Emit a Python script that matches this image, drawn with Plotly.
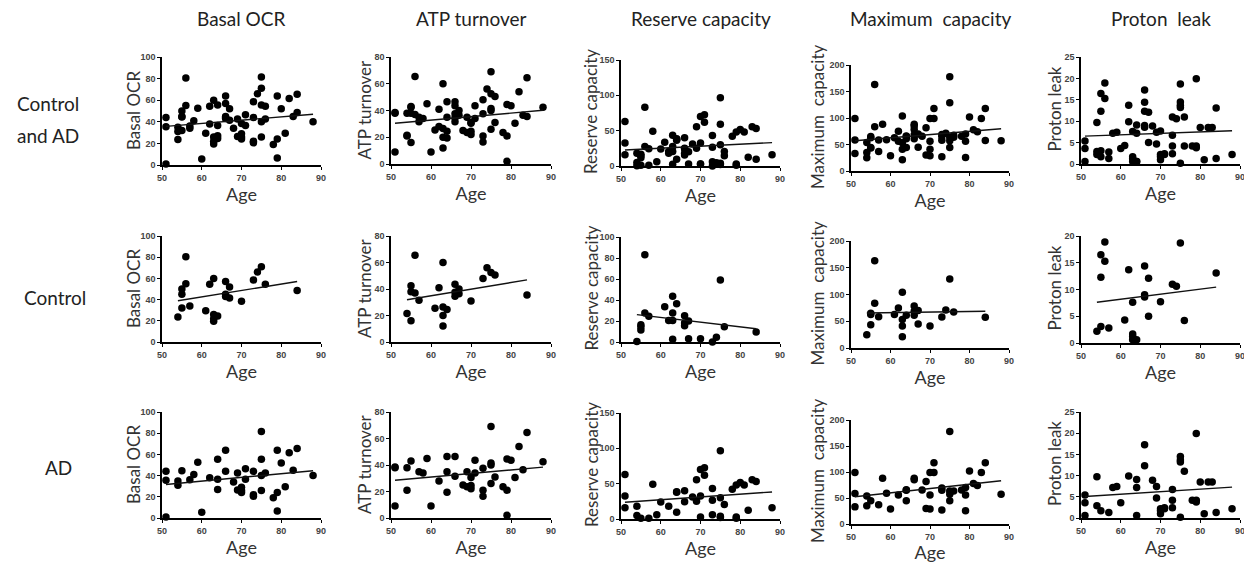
import numpy as np
import plotly.graph_objects as go

# ---------------- data ----------------
col_titles = ["Basal OCR", "ATP turnover", "Reserve capacity", "Maximum\u00a0 capacity", "Proton\u00a0 leak"]
y_titles = ["Basal OCR", "ATP turnover", "Reserve capacity", "Maximum\u00a0 capacity", "Proton leak"]
row_labels = [["Control", "and AD"], ["Control"], ["AD"]]
x_label = "Age"

ages_control = [54, 55, 55, 55, 56, 56, 57, 61, 62, 63, 63, 63, 63, 64, 66, 66, 66, 67, 67, 70, 73, 74, 75, 76, 84]
basal_control = [23.5, 32, 45, 50, 80.5, 55, 34, 29.5, 54.5, 60, 26, 19.5, 22, 24.5, 57, 45, 43, 52, 41.5, 38.5, 58.5, 66, 71, 54.5, 48.5]
atp_control = [21.5, 16, 42.5, 38, 65.5, 37, 31.5, 25.5, 41, 60, 26.5, 20, 12, 24.5, 43.5, 34.5, 37.5, 40, 36.5, 31, 48, 56, 52.5, 50.5, 35.5]
reserve_control = [0.5, 16.5, 14.5, 11.5, 83, 27.5, 24.5, 33.5, 20.5, 43.5, 27.5, 20.5, 2.5, 36.5, 25, 15.5, 18, 20, 3, 3, 0, 4.5, 59, 14.5, 9.5]
max_control = [25, 62.5, 43.5, 65, 163, 83.5, 58.5, 62.5, 75, 104, 53.5, 41, 21, 61, 78.5, 61, 68.5, 70, 45, 41, 58, 71, 129, 67.5, 57.5]
proton_control = [2.2, 12.3, 16.5, 3.1, 18.9, 15.3, 2.8, 4.3, 13.7, 7.6, 1.7, 1.2, 0.6, 0.6, 14.4, 9.0, 8.6, 12.1, 5.0, 7.7, 11.0, 10.6, 18.7, 4.2, 13.1]

ages_ad = [51, 51, 51, 54, 54, 55, 57, 58, 59, 60, 62, 64, 64, 64, 66, 66, 68, 69, 69, 70, 70, 70, 71, 71,
           73, 73, 73, 75, 75, 75, 75, 76, 78, 79, 79, 79, 80, 81, 82, 83, 84, 88]
basal_ad = [44, 35.5, 1, 35, 31, 44.5, 36, 41, 52.5, 5.5, 38, 55.5, 36.5, 27, 64, 44, 34, 42.5, 26.5, 29, 26, 24,
            46.5, 36.5, 44, 22, 20.5, 81.5, 55.5, 40, 26, 42.5, 19, 64, 24, 6.5, 52, 29.5, 61.5, 45, 65.5, 40]
atp_ad = [38.5, 38, 9, 38, 21, 43, 35, 34, 45, 9, 28, 46.5, 35, 19.5, 46.5, 31.5, 25, 35, 23.5, 30.5, 24.5, 22,
          43.5, 34, 37.5, 21, 16.5, 69, 41.5, 26, 40, 31, 23.5, 44.5, 21, 2, 43.5, 30.5, 54, 36.5, 64.5, 42.5]
reserve_ad = [63, 32.5, 16, 18, 5, 1, 1, 49, 6, 24, 18, 38, 9.5, 38.5, 40, 24.5, 31, 55.5, 25, 70, 32.5, 3,
              72.5, 62, 43, 26.5, 6, 96.5, 30, 4, 2, 20.5, 42, 48, 3, 1, 51.5, 48, 12.5, 55.5, 53, 16]
max_ad = [99, 58.5, 33, 35, 54, 44.5, 37, 88, 59, 29, 56, 66, 44.5, 65, 88, 85, 65.5, 81.5, 30, 99, 56, 29,
          118, 99, 69, 65, 27, 178, 63.5, 44.5, 57, 63.5, 65.5, 56, 25.5, 70, 102, 78, 74, 99, 118, 57]
proton_ad = [5.4, 3.6, 0.6, 9.7, 2.9, 1.7, 1.3, 7.2, 7.4, 3.6, 9.9, 9.1, 7.2, 0.6, 17.3, 12.3, 8.9, 7.4, 4.7, 2.2,
             1.0, 1.7, 2.4, 2.2, 6.7, 4.2, 2.4, 14.5, 13.7, 13.2, 0.2, 11, 4.2, 19.9, 3.8, 4.2, 8.5, 1, 8.5, 8.5, 1.3, 2.2]

y_max_rows = [[100, 80, 150, 200, 25], [100, 80, 100, 200, 20], [100, 80, 150, 200, 25]]
y_dtick_rows = [[20, 20, 50, 50, 5], [20, 20, 20, 50, 5], [20, 20, 50, 50, 5]]
x_ticks = [50, 60, 70, 80, 90]

control_sets = [basal_control, atp_control, reserve_control, max_control, proton_control]
ad_sets = [basal_ad, atp_ad, reserve_ad, max_ad, proton_ad]

# ---------------- layout geometry (page pixels) ----------------
OFF = 8  # default page body margin
W, H = 1240, 555
col_x = [(162, 321), (391, 551), (621, 780), (851, 1009), (1081, 1240)]
ytitle_offset = [29, 27, 30, 34, 27]
row_y = [
    [(57, 165), (57, 164), (60, 166), (65, 171), (57, 164)],
    [(236, 342), (236, 342), (237, 342), (241, 348), (236, 343)],
    [(412, 518), (412, 518), (413, 519), (420, 524), (412, 518)],
]


def px(x):
    return (x - OFF) / W


def py(y):
    return 1 - (y - OFF) / H


fig = go.Figure()
layout = dict(width=W, height=H, margin=dict(l=0, r=0, t=0, b=0, pad=0, autoexpand=False),
              paper_bgcolor="white", plot_bgcolor="white", showlegend=False)
annotations = []

font_main = "Lato, Open Sans, sans-serif"
tick_font = dict(family="Liberation Sans, Arial", size=9, color="#444", weight="bold")

k = 0
for r in range(3):
    for c in range(5):
        k += 1
        if r == 0:
            xs = ages_control + ages_ad
            ys = control_sets[c] + ad_sets[c]
        elif r == 1:
            xs = ages_control
            ys = control_sets[c]
        else:
            xs = ages_ad
            ys = ad_sets[c]
        xn = np.array(xs, dtype=float)
        yn = np.array(ys, dtype=float)
        slope, icpt = np.polyfit(xn, yn, 1)
        lx = np.array([xn.min(), xn.max()])
        ly = slope * lx + icpt
        xa = "x" if k == 1 else f"x{k}"
        ya = "y" if k == 1 else f"y{k}"
        fig.add_trace(go.Scatter(x=xs, y=ys, mode="markers", xaxis=xa, yaxis=ya,
                                 marker=dict(color="black", size=7.5), cliponaxis=False))
        fig.add_trace(go.Scatter(x=lx, y=ly, mode="lines", xaxis=xa, yaxis=ya,
                                 line=dict(color="#111", width=1.4), cliponaxis=False))
        x0, x1 = col_x[c]
        yt, yb = row_y[r][c]
        xk = "xaxis" if k == 1 else f"xaxis{k}"
        yk = "yaxis" if k == 1 else f"yaxis{k}"
        layout[xk] = dict(domain=[px(x0), px(x1)], anchor=ya, range=[50, 90], automargin=False,
                          tickvals=x_ticks, showgrid=False, zeroline=False,
                          showline=True, linecolor="black", linewidth=1.5,
                          ticks="outside", ticklen=3, tickwidth=1.2, tickcolor="black",
                          tickfont=tick_font,
                          title=dict(text=x_label, font=dict(family=font_main, size=18, color="#333"), standoff=2))
        layout[yk] = dict(domain=[py(yb), py(yt)], anchor=xa, automargin=False,
                          range=[0, y_max_rows[r][c]], dtick=y_dtick_rows[r][c], tick0=0,
                          showgrid=False, zeroline=False,
                          showline=True, linecolor="black", linewidth=1.5,
                          ticks="outside", ticklen=3, tickwidth=1.2, tickcolor="black",
                          tickfont=tick_font)
        # y-axis title placed beside the axis
        annotations.append(dict(text=y_titles[c], textangle=-90, x=px(x0 - ytitle_offset[c]),
                                y=py((yt + yb) / 2 - 1), xref="paper", yref="paper", showarrow=False,
                                font=dict(family=font_main, size=17, color="#333"),
                                xanchor="center", yanchor="middle"))

# column titles
for c in range(5):
    x0, x1 = col_x[c]
    annotations.append(dict(text=col_titles[c], x=px((x0 + x1) / 2), y=py(18), xref="paper", yref="paper",
                            showarrow=False, font=dict(family=font_main, size=19, color="#222"),
                            xanchor="center", yanchor="middle"))
# row labels (one annotation per line)
row_label_pos = [[(48, 103), (48, 135)], [(55, 297)], [(58, 467)]]
for lines, poss in zip(row_labels, row_label_pos):
    for txt, (x, y) in zip(lines, poss):
        annotations.append(dict(text=txt, x=px(x), y=py(y), xref="paper", yref="paper", showarrow=False,
                                font=dict(family=font_main, size=19, color="#222"), align="center",
                                xanchor="center", yanchor="middle"))
layout["annotations"] = annotations
fig.update_layout(**layout)
fig.write_html("out.html")
